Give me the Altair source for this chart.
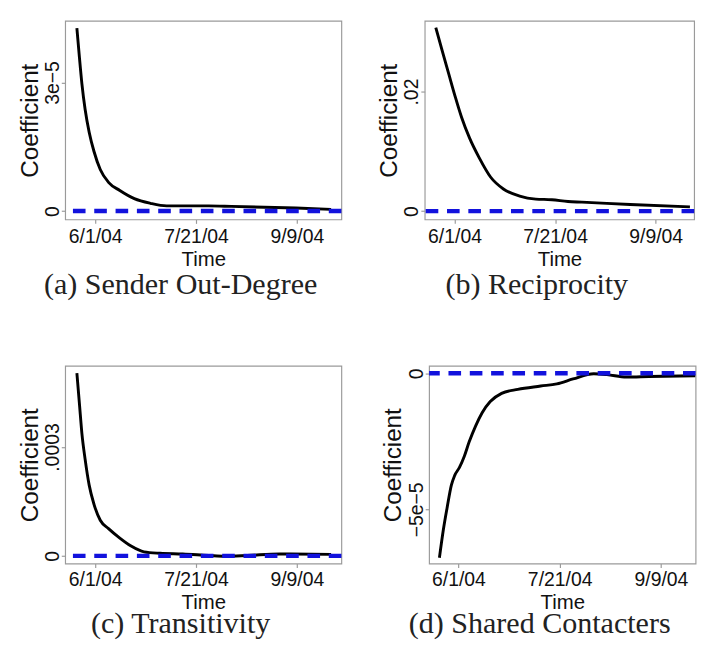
import altair as alt
import pandas as pd

# x positions are days relative to 6/1/04
tick_days = [0, 50, 100]
tick_labels = ["6/1/04", "7/21/04", "9/9/04"]

# (a) Sender Out-Degree  (values in units of 1e-5)
a_days = [-9.1, -7.8, -6.6, -5.0, -3.0, -0.6, 2.5, 6.6, 12.2, 19.4, 27.4, 35.4, 45.0, 56.3, 67.5, 99.5, 117.0]
a_vals = [4.27, 3.57, 2.97, 2.37, 1.84, 1.39, 0.97, 0.67, 0.48, 0.29, 0.18, 0.12, 0.12, 0.12, 0.11, 0.07, 0.04]

# (b) Reciprocity
b_days = [-9.3, -6.1, -2.9, 0.3, 3.5, 7.5, 12.3, 17.9, 24.3, 32.4, 40.4, 48.4, 56.4, 63.3, 87.3, 117.0]
b_vals = [0.0307, 0.0268, 0.0230, 0.0192, 0.0157, 0.0122, 0.0089, 0.0057, 0.0037, 0.0025, 0.0020, 0.0019, 0.0016, 0.0015, 0.0011, 0.0007]

# (c) Transitivity  (values in units of 1e-4)
c_days = [-9.1, -7.8, -6.6, -5.0, -3.0, -0.6, 2.5, 6.6, 12.2, 17.8, 24.2, 32.2, 43.4, 56.3, 64.3, 75.5, 91.5, 117.0]
c_vals = [5.04, 4.17, 3.37, 2.66, 1.95, 1.42, 0.98, 0.75, 0.49, 0.27, 0.11, 0.07, 0.05, 0.01, -0.01, 0.01, 0.05, 0.04]

# (d) Shared Contacters  (values in units of 1e-5)
d_days = [-9.4, -7.5, -5.6, -3.5, -1.9, 0.5, 2.9, 5.3, 8.5, 11.7, 15.7, 21.3, 29.3, 40.6, 48.6, 56.6, 66.8, 73.3, 82.9, 94.1, 117.0]
d_vals = [-6.78, -5.77, -4.94, -4.11, -3.76, -3.46, -3.05, -2.52, -1.93, -1.45, -1.04, -0.74, -0.59, -0.47, -0.39, -0.21, -0.02, -0.05, -0.14, -0.12, -0.09]

captions = ["(a) Sender Out-Degree", "(b) Reciprocity", "(c) Transitivity", "(d) Shared Contacters"]
zero_level = [0]

SANS = "Liberation Sans"
SERIF = "Liberation Serif"
FRAME = "#9a9a9a"
BLUE = "#1212dd"


def label_expr(values, labels):
    expr = "''"
    for v, lab in reversed(list(zip(values, labels))):
        expr = f"abs(datum.value - ({v!r})) < 1e-12 ? '{lab}' : ({expr})"
    return expr


def panel(days, vals, scale, xdom, ydom, yticks, ylabels, caption, width, height,
          cap_offset, lab_pad, title_pad):
    df = pd.DataFrame({"day": days, "coef": [v * scale for v in vals]})
    zdf = pd.DataFrame({"z": zero_level})
    x_enc = alt.X(
        "day:Q",
        scale=alt.Scale(domain=xdom, nice=False, zero=False),
        axis=alt.Axis(
            values=tick_days,
            labelExpr=label_expr(tick_days, tick_labels),
            title="Time",
            grid=False,
            domain=False,
            tickSize=4,
            tickColor=FRAME,
            tickWidth=1.2,
            labelFont=SANS,
            labelFontSize=20,
            labelColor="#111111",
            labelPadding=lab_pad,
            titleFont=SANS,
            titleFontSize=21,
            titleFontWeight="normal",
            titleColor="#111111",
            titlePadding=title_pad,
            labelFlush=False,
        ),
    )
    y_axis = alt.Axis(
        values=yticks,
        labelExpr=label_expr(yticks, ylabels),
        title="Coefficient",
        grid=False,
        domain=False,
        labelAngle=270,
        labelAlign="center",
        labelBaseline="alphabetic",
        tickSize=4,
        tickColor=FRAME,
        tickWidth=1.2,
        labelFont=SANS,
        labelFontSize=20,
        labelColor="#111111",
        labelPadding=3,
        titleFont=SANS,
        titleFontSize=25,
        titleFontWeight="normal",
        titleColor="#111111",
        titlePadding=1,
        labelFlush=False,
    )
    line = alt.Chart(df).mark_line(
        color="black", strokeWidth=3, interpolate="monotone", clip=True
    ).encode(
        x=x_enc,
        y=alt.Y("coef:Q", scale=alt.Scale(domain=ydom, nice=False, zero=False), axis=y_axis),
    )
    zero = alt.Chart(zdf).mark_rule(
        color=BLUE, strokeWidth=4.5, strokeDash=[13, 9]
    ).encode(y="z:Q")
    return alt.layer(line, zero).properties(
        width=width,
        height=height,
        title=alt.TitleParams(
            caption,
            orient="bottom",
            anchor="middle",
            frame="bounds",
            font=SERIF,
            fontSize=31,
            fontWeight="normal",
            color="#222222",
            offset=cap_offset,
            baseline="top",
        ),
    )


pa = panel(a_days, a_vals, 1e-5, [-14.9, 122.1], [-0.197e-5, 4.44e-5],
           [0, 3e-5], ["0", "3e−5"], captions[0], 285, 205, 1, 4, 3)
pb = panel(b_days, b_vals, 1.0, [-14.8, 119.1], [-0.00141, 0.03184],
           [0, 0.02], ["0", ".02"], captions[1], 278, 205, 1, 4, 3)
pc = panel(c_days, c_vals, 1e-4, [-14.9, 122.1], [-0.0000213, 0.000524],
           [0, 0.0003], ["0", ".0003"], captions[2], 285, 204, -2, 3, 2)
pd_ = panel(d_days, d_vals, 1e-5, [-14.5, 117.1], [-6.99e-5, 0.273e-5],
            [-5e-5, 0], ["−5e−5", "0"], captions[3], 275, 204, -2, 3, 2)

row1 = alt.hconcat(pa, pb, spacing=33).resolve_scale(x="independent", y="independent")
row2 = alt.hconcat(pc, pd_, spacing=37.5).resolve_scale(x="independent", y="independent")

chart = (
    alt.vconcat(row1, row2, spacing=66)
    .properties(padding={"left": 9, "top": 2, "right": 0, "bottom": 0}, background="white")
    .configure_view(stroke=FRAME, strokeWidth=1.2)
)

chart.save("out.html", embed_options={"renderer": "svg", "actions": False})
